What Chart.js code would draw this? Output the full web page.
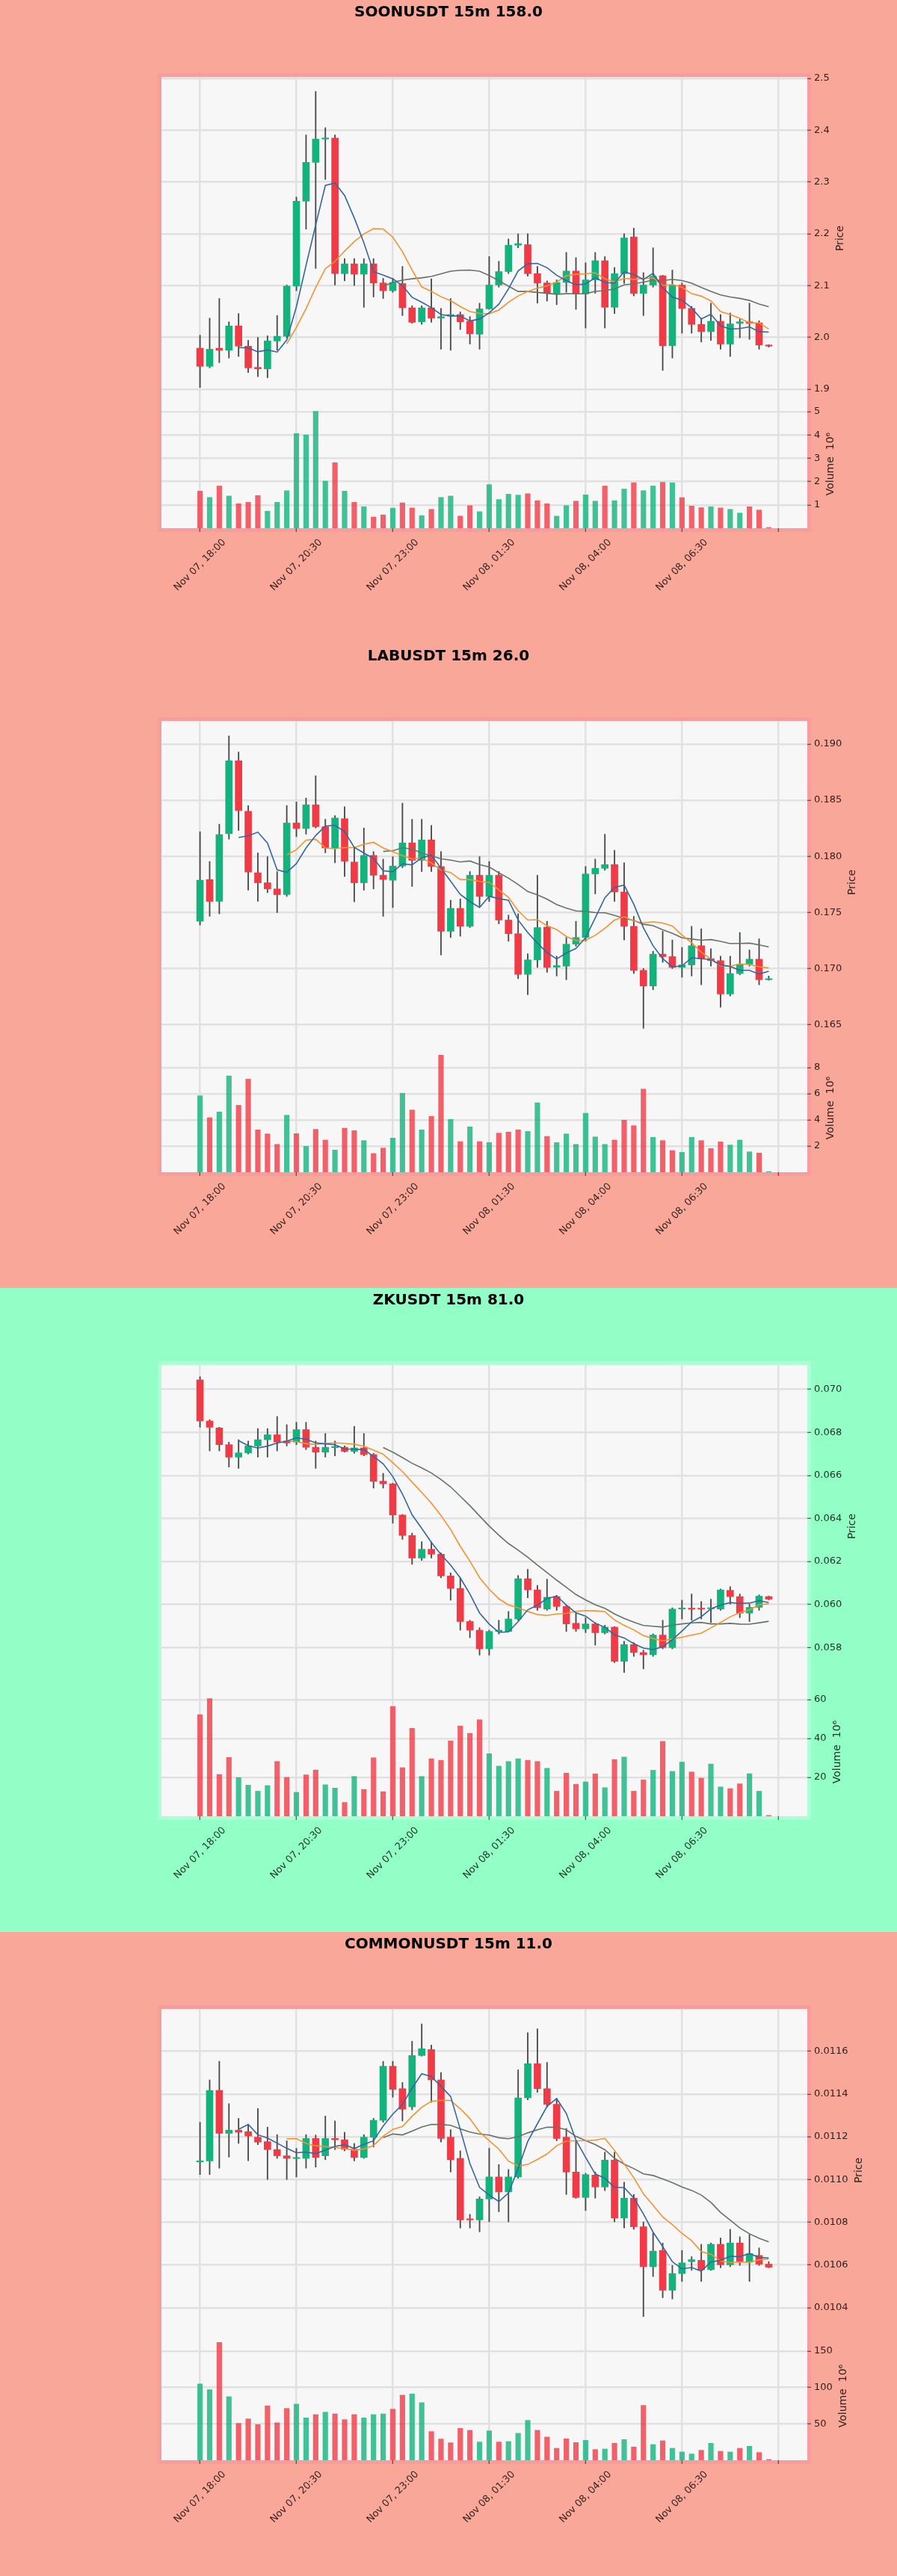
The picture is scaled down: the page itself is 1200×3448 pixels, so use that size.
<!DOCTYPE html>
<html>
<head>
<meta charset="utf-8">
<script src="https://cdn.jsdelivr.net/npm/chart.js@4.4.0/dist/chart.umd.min.js"></script>
<style>
body { margin: 0; width: 1200px; }
.panel { position: relative; width: 1200px; height: 862px; }
canvas { display: block; }
</style>
</head>
<body>
<div class="panel" style="background:#f9a799"><canvas id="c0" width="1200" height="862"></canvas></div>
<div class="panel" style="background:#f9a799"><canvas id="c1" width="1200" height="862"></canvas></div>
<div class="panel" style="background:#91ffc6"><canvas id="c2" width="1200" height="862"></canvas></div>
<div class="panel" style="background:#f9a799"><canvas id="c3" width="1200" height="862"></canvas></div>
<script>
// x axis: candle index, tick every 10 candles (2.5h of 15m bars)
const tickIdx = [0, 10, 20, 30, 40, 50, 60];
const tickLabels = ["Nov 07, 18:00", "Nov 07, 20:30", "Nov 07, 23:00", "Nov 08, 01:30", "Nov 08, 04:00", "Nov 08, 06:30", ""];

// SOONUSDT
const soonOpen = [1.979,1.944,1.979,1.975,2.022,1.983,1.942,1.939,1.993,2.002, 2.099,2.263,2.338,2.383,2.385,2.123,2.142,2.122,2.142,2.105, 2.090,2.104,2.057,2.030,2.057,2.037,2.041,2.044,2.031,2.006, 2.055,2.101,2.127,2.178,2.179,2.123,2.105,2.085,2.106,2.128, 2.084,2.111,2.148,2.058,2.123,2.194,2.085,2.101,2.119,1.984, 2.101,2.056,2.025,2.011,2.031,1.987,2.027,2.030,2.028,1.985];
const soonHigh = [2.004,2.037,2.075,2.030,2.046,1.994,2.000,2.003,2.042,2.101, 2.271,2.391,2.475,2.405,2.391,2.152,2.152,2.152,2.152,2.114, 2.114,2.137,2.061,2.061,2.113,2.056,2.075,2.049,2.040,2.066, 2.156,2.147,2.190,2.200,2.200,2.137,2.109,2.111,2.164,2.154, 2.144,2.164,2.156,2.135,2.200,2.211,2.125,2.173,2.120,2.130, 2.105,2.060,2.037,2.066,2.044,2.047,2.035,2.066,2.032,1.986];
const soonLow = [1.903,1.941,1.951,1.960,1.963,1.932,1.924,1.922,1.975,1.999, 2.090,2.209,2.133,2.305,2.101,2.109,2.100,2.058,2.078,2.075, 2.087,2.042,2.027,2.025,2.029,1.977,1.975,2.015,1.987,1.977, 2.054,2.097,2.123,2.173,2.118,2.066,2.070,2.063,2.087,2.054, 2.018,2.085,2.018,2.046,2.104,2.080,2.042,2.097,1.936,1.960, 2.008,2.008,1.991,1.994,1.977,1.963,1.999,1.996,1.977,1.981];
const soonClose = [1.944,1.977,1.975,2.022,1.983,1.941,1.939,1.993,2.002,2.099, 2.263,2.338,2.383,2.384,2.123,2.142,2.122,2.142,2.105,2.090, 2.106,2.057,2.029,2.057,2.037,2.040,2.044,2.030,2.007,2.055, 2.101,2.127,2.178,2.181,2.123,2.105,2.085,2.106,2.128,2.084, 2.111,2.148,2.058,2.123,2.192,2.085,2.101,2.118,1.984,2.101, 2.056,2.025,2.011,2.031,1.987,2.026,2.030,2.027,1.985,1.983];
const soonVol = [1.59,1.32,1.81,1.38,1.05,1.11,1.40,0.73,1.11,1.61, 4.06,4.00,5.01,2.02,2.81,1.59,1.11,0.92,0.48,0.57, 0.86,1.09,0.87,0.54,0.81,1.32,1.38,0.52,0.97,0.71, 1.87,1.23,1.46,1.42,1.48,1.18,1.05,0.52,0.97,1.16, 1.43,1.16,1.81,1.18,1.68,1.95,1.61,1.81,1.97,1.95, 1.31,0.95,0.88,0.92,0.87,0.81,0.65,0.92,0.78,0.03];
const soonPriceTicks = ["1.9", "2.0", "2.1", "2.2", "2.3", "2.4", "2.5"];
const soonVolTicks = ["1", "2", "3", "4", "5"];

// LABUSDT
const labOpen = [0.17421,0.17793,0.17598,0.18201,0.18851,0.18401,0.17853,0.17764,0.17709,0.17658, 0.18297,0.18248,0.18459,0.18264,0.18075,0.18335,0.17949,0.17764,0.18008,0.17831, 0.17787,0.17913,0.18119,0.17964,0.18146,0.17909,0.17332,0.17536,0.17376,0.17831, 0.17642,0.17831,0.17432,0.17310,0.16948,0.17077,0.17369,0.17012,0.17021,0.17217, 0.17276,0.17842,0.17893,0.17926,0.17682,0.17376,0.16984,0.16844,0.17128,0.17106, 0.17010,0.17032,0.17203,0.17088,0.17070,0.16773,0.16955,0.17039,0.17083,0.16900];
const labHigh = [0.18219,0.17953,0.18286,0.19073,0.18929,0.18452,0.18031,0.17997,0.17864,0.18452, 0.18485,0.18519,0.18718,0.18330,0.18363,0.18441,0.18075,0.18252,0.18042,0.17975, 0.17997,0.18474,0.18330,0.18330,0.18275,0.18042,0.17609,0.17620,0.17864,0.17997, 0.17953,0.17864,0.17476,0.17487,0.17132,0.17831,0.17421,0.17110,0.17277,0.17421, 0.17909,0.17975,0.18197,0.18053,0.17942,0.17465,0.17000,0.17154,0.17332,0.17254, 0.17188,0.17376,0.17354,0.17177,0.17110,0.17110,0.17321,0.17165,0.17265,0.16933];
const labLow = [0.17387,0.17465,0.17487,0.18153,0.18230,0.17698,0.17598,0.17676,0.17498,0.17642, 0.18175,0.18197,0.18252,0.18031,0.17942,0.17820,0.17594,0.17698,0.17709,0.17465, 0.17543,0.17898,0.17731,0.17864,0.17864,0.17121,0.17276,0.17288,0.17365,0.17554, 0.17598,0.17398,0.17243,0.16910,0.16766,0.17010,0.16966,0.16933,0.16900,0.17199, 0.17243,0.17665,0.17875,0.17598,0.17254,0.16955,0.16467,0.16811,0.17055,0.16999, 0.16922,0.16933,0.16855,0.17021,0.16655,0.16755,0.16944,0.17021,0.16855,0.16895];
const labClose = [0.17787,0.17598,0.18193,0.18851,0.18408,0.17860,0.17764,0.17709,0.17658,0.18297, 0.18248,0.18459,0.18264,0.18075,0.18341,0.17957,0.17764,0.18008,0.17831,0.17793, 0.17913,0.18119,0.17964,0.18146,0.17909,0.17332,0.17536,0.17376,0.17831,0.17642, 0.17831,0.17432,0.17310,0.16948,0.17077,0.17365,0.17010,0.17026,0.17217,0.17276, 0.17842,0.17893,0.17926,0.17682,0.17376,0.16984,0.16844,0.17128,0.17106,0.17010, 0.17032,0.17203,0.17088,0.17070,0.16773,0.16955,0.17039,0.17083,0.16900,0.16905];
const labVol = [5.85,4.17,4.61,7.37,5.12,7.12,3.24,2.93,2.13,4.36, 2.95,1.98,3.28,2.46,1.70,3.37,3.18,2.42,1.43,1.85, 2.61,6.04,4.76,3.24,4.27,8.95,4.04,2.34,3.47,2.34, 2.27,2.99,3.07,3.24,3.12,5.31,2.74,2.27,2.93,2.13, 4.51,2.70,2.13,2.46,3.98,3.56,6.36,2.67,2.42,1.66, 1.52,2.67,2.42,1.81,2.32,2.08,2.46,1.56,1.47,0.05];
const labPriceTicks = ["0.165", "0.170", "0.175", "0.180", "0.185", "0.190"];
const labVolTicks = ["2", "4", "6", "8"];

// ZKUSDT
const zkOpen = [0.07044,0.06853,0.06821,0.06743,0.06685,0.06705,0.06737,0.06766,0.06789,0.06760, 0.06755,0.06813,0.06731,0.06708,0.06729,0.06731,0.06712,0.06728,0.06697,0.06573, 0.06561,0.06416,0.06321,0.06216,0.06257,0.06234,0.06133,0.06075,0.05921,0.05881, 0.05794,0.05875,0.05875,0.05933,0.06120,0.06068,0.05979,0.06037,0.05991,0.05913, 0.05887,0.05910,0.05869,0.05895,0.05736,0.05814,0.05777,0.05767,0.05858,0.05800, 0.05979,0.05982,0.05981,0.05980,0.05979,0.06066,0.06037,0.05960,0.05987,0.06037];
const zkHigh = [0.07059,0.06859,0.06824,0.06755,0.06766,0.06760,0.06818,0.06818,0.06874,0.06836, 0.06847,0.06847,0.06760,0.06795,0.06760,0.06737,0.06828,0.06795,0.06703,0.06610, 0.06564,0.06419,0.06332,0.06292,0.06292,0.06240,0.06147,0.06124,0.05927,0.05892, 0.05881,0.05927,0.05968,0.06135,0.06164,0.06089,0.06118,0.06043,0.05997,0.05962, 0.05939,0.05916,0.05904,0.05898,0.05829,0.05823,0.05788,0.05864,0.05927,0.05985, 0.06020,0.06049,0.06014,0.06025,0.06072,0.06083,0.06049,0.06002,0.06045,0.06040];
const zkLow = [0.06824,0.06714,0.06714,0.06639,0.06633,0.06700,0.06685,0.06685,0.06714,0.06737, 0.06743,0.06720,0.06633,0.06685,0.06691,0.06708,0.06703,0.06691,0.06541,0.06541, 0.06378,0.06303,0.06187,0.06205,0.06216,0.06124,0.06020,0.05881,0.05846,0.05765, 0.05765,0.05863,0.05875,0.05927,0.06031,0.05973,0.05973,0.05973,0.05875,0.05875, 0.05869,0.05811,0.05863,0.05730,0.05684,0.05759,0.05701,0.05759,0.05794,0.05794, 0.05933,0.05927,0.05933,0.05916,0.05973,0.06002,0.05939,0.05921,0.05973,0.06022];
const zkClose = [0.06853,0.06824,0.06743,0.06685,0.06705,0.06737,0.06766,0.06789,0.06755,0.06751, 0.06813,0.06731,0.06708,0.06731,0.06732,0.06712,0.06728,0.06697,0.06573,0.06561, 0.06416,0.06321,0.06216,0.06257,0.06234,0.06133,0.06075,0.05921,0.05881,0.05794, 0.05875,0.05881,0.05933,0.06120,0.06068,0.05985,0.06034,0.05991,0.05910,0.05887, 0.05910,0.05869,0.05895,0.05736,0.05814,0.05777,0.05767,0.05858,0.05800,0.05979, 0.05982,0.05978,0.05978,0.05983,0.06068,0.06037,0.05960,0.05987,0.06039,0.06025];
const zkVol = [52.3,60.6,21.5,30.3,19.9,16.0,12.9,15.8,28.2,20.0, 12.3,21.3,23.8,16.2,14.5,7.1,20.5,13.8,30.1,12.6, 56.5,25.0,45.3,20.5,29.6,28.8,38.8,46.5,42.7,49.7, 32.2,25.8,28.2,29.6,28.8,28.2,24.7,12.9,22.2,16.4, 17.7,21.8,14.7,29.2,30.5,12.9,18.7,23.7,38.6,23.1, 27.9,22.8,19.6,26.9,15.1,14.2,16.7,21.9,12.9,0.4];
const zkPriceTicks = ["0.058", "0.060", "0.062", "0.064", "0.066", "0.068", "0.070"];
const zkVolTicks = ["20", "40", "60"];

// COMMONUSDT
const commonOpen = [0.011082,0.011087,0.011417,0.011216,0.011231,0.011224,0.011198,0.011177,0.011140,0.011111, 0.011098,0.011099,0.011192,0.011111,0.011192,0.011186,0.011142,0.011103,0.011198,0.011277, 0.011530,0.011425,0.011340,0.011580,0.011608,0.011466,0.011198,0.011099,0.010816,0.010811, 0.010909,0.011012,0.010942,0.011012,0.011382,0.011542,0.011425,0.011352,0.011198,0.011035, 0.010916,0.011021,0.010965,0.011091,0.010820,0.010913,0.010779,0.010592,0.010668,0.010482, 0.010560,0.010616,0.010622,0.010578,0.010697,0.010601,0.010703,0.010613,0.010645,0.010604];
const commonHigh = [0.011268,0.011466,0.011553,0.011355,0.011286,0.011257,0.011332,0.011245,0.011210,0.011181, 0.011146,0.011210,0.011208,0.011297,0.011274,0.011221,0.011169,0.011210,0.011286,0.011553, 0.011553,0.011454,0.011647,0.011728,0.011629,0.011501,0.011233,0.011134,0.010837,0.010919, 0.011146,0.011070,0.011047,0.011513,0.011687,0.011705,0.011548,0.011379,0.011239,0.011181, 0.011029,0.011035,0.011128,0.011128,0.010988,0.010930,0.010802,0.010750,0.010703,0.010598, 0.010668,0.010639,0.010697,0.010703,0.010726,0.010767,0.010732,0.010744,0.010680,0.010616];
const commonLow = [0.011023,0.011023,0.011053,0.011105,0.011169,0.011088,0.011163,0.011000,0.011099,0.011000, 0.011012,0.011053,0.011058,0.011093,0.011140,0.011134,0.011087,0.011099,0.011152,0.011268, 0.011385,0.011274,0.011326,0.011577,0.011361,0.011175,0.011035,0.010773,0.010773,0.010755, 0.010802,0.010849,0.010802,0.011006,0.011373,0.011408,0.011338,0.011181,0.010930,0.010912, 0.010855,0.010913,0.010948,0.010802,0.010773,0.010767,0.010359,0.010546,0.010447,0.010441, 0.010523,0.010575,0.010523,0.010575,0.010587,0.010592,0.010598,0.010523,0.010598,0.010587];
const commonClose = [0.011087,0.011417,0.011216,0.011231,0.011221,0.011204,0.011175,0.011140,0.011111,0.011099, 0.011102,0.011192,0.011103,0.011192,0.011186,0.011142,0.011103,0.011198,0.011277,0.011530, 0.011422,0.011329,0.011580,0.011612,0.011466,0.011192,0.011093,0.010811,0.010811,0.010909, 0.011012,0.010942,0.011012,0.011382,0.011542,0.011425,0.011352,0.011192,0.011035,0.010916, 0.011023,0.010965,0.011091,0.010820,0.010913,0.010779,0.010592,0.010665,0.010482,0.010560, 0.010610,0.010625,0.010578,0.010697,0.010601,0.010703,0.010616,0.010653,0.010604,0.010590];
const commonVol = [104.8,96.9,162.0,87.3,50.7,56.8,49.0,74.7,51.4,71.2, 77.1,58.2,62.7,66.1,63.7,55.8,62.7,58.2,62.7,63.7, 70.2,89.4,91.1,79.1,39.4,29.1,24.0,43.8,41.1,25.0, 40.4,25.0,25.7,37.0,54.8,41.1,31.8,16.4,29.5,24.3, 27.4,14.7,15.4,23.3,28.4,18.2,75.3,21.6,26.7,16.4, 11.3,8.6,13.7,23.3,12.3,11.3,16.4,19.2,10.6,1.0];
const commonPriceTicks = ["0.0104", "0.0106", "0.0108", "0.0110", "0.0112", "0.0114", "0.0116"];
const commonVolTicks = ["50", "100", "150"];

const titles = ["SOONUSDT 15m 158.0", "LABUSDT 15m 26.0", "ZKUSDT 15m 81.0", "COMMONUSDT 15m 11.0"];
const priceMin = [1.8795, 0.16330, 0.056135, 0.010288];
const priceMax = [2.5030, 0.19206, 0.071135, 0.011798];
const volMax = [5.51, 9.83, 66.2, 176.6];
const maWindows = [5, 10, 20];

const UP = "#14b37d", DOWN = "#f03a46";
const UP_VOL = "rgba(20,179,125,0.8)", DOWN_VOL = "rgba(240,58,70,0.8)";
const MA_COLORS = ["#3466a0", "#f5922f", "#667466"];
const TEXT = "rgba(0,0,0,0.82)";
const FONT = "'DejaVu Sans', sans-serif";

Chart.defaults.font.family = FONT;

// moving averages of the close, as the original chart shows them
function movingAvg(vals, n) {
    return vals.map((v, i) => {
        if (i < n - 1) return null;
        let s = 0;
        for (let k = i - n + 1; k <= i; k++) s += vals[k];
        return s / n;
    });
}

function decor(p) {
    return {
        id: "decor",
        beforeDraw(chart) {
            const ctx = chart.ctx, a = chart.chartArea;
            ctx.save();
            ctx.fillStyle = p.frame;
            ctx.fillRect(a.left - 5, a.top - 5, a.right - a.left + 10, a.bottom - a.top + 10);
            ctx.fillStyle = "#f7f7f7";
            ctx.fillRect(a.left, a.top, a.right - a.left, a.bottom - a.top);
            ctx.restore();
        },
        afterDraw(chart) {
            const ctx = chart.ctx, a = chart.chartArea, sc = chart.scales;
            ctx.save();
            // title
            ctx.fillStyle = "#000";
            ctx.font = "bold 20px " + FONT;
            ctx.textAlign = "center";
            ctx.textBaseline = "middle";
            ctx.fillText(p.title, 600, 17);

            // rotated date labels, centred on their tick
            ctx.fillStyle = TEXT;
            ctx.font = "13px " + FONT;
            tickIdx.forEach((v, k) => {
                const t = tickLabels[k];
                if (!t) return;
                const x = sc.x.getPixelForValue(v);
                const h = (ctx.measureText(t).width + 14) * Math.SQRT1_2;
                ctx.save();
                ctx.translate(x, a.bottom + 12 + h / 2);
                ctx.rotate(-Math.PI / 4);
                ctx.fillText(t, 0, 0);
                ctx.restore();
            });

            // axis titles on the right, reading upwards
            ctx.font = "13px " + FONT;
            const pw = Math.max(...p.priceTicks.map(t => ctx.measureText(t).width));
            const vw = Math.max(...p.volTicks.map(t => ctx.measureText(t).width));
            ctx.font = "14px " + FONT;
            const label = (txt, x, y) => {
                ctx.save();
                ctx.translate(x, y);
                ctx.rotate(-Math.PI / 2);
                ctx.fillText(txt, 0, 0);
                ctx.restore();
            };
            label("Price", a.right + 9 + pw + 14.5, (sc.y.top + sc.y.bottom) / 2);
            label("Volume  10\u2076", a.right + 9 + vw + 14.5, (sc.v.top + sc.v.bottom) / 2);
            ctx.restore();
        }
    };
}

function drawPanel(id, p) {
    const idx = p.close.map((c, i) => i);
    const up = idx.map(i => p.close[i] >= p.open[i]);
    const gridOpts = { color: "#e1e1e1", lineWidth: 2.5, offset: false, drawTicks: true, tickLength: 5, tickColor: "#333", tickWidth: 1 };
    const tickFont = { size: 13 };

    const maSets = maWindows.map((n, k) => {
        const ma = movingAvg(p.close, n);
        return {
            type: "line",
            data: idx.map(i => ({ x: i, y: ma[i] })),
            borderColor: MA_COLORS[k],
            borderWidth: 1.6,
            pointRadius: 0,
            yAxisID: "y",
            order: 1 + k
        };
    });

    new Chart(document.getElementById(id), {
        type: "bar",
        data: {
            datasets: maSets.concat([
                {
                    data: idx.map(i => ({ x: i, y: [p.open[i], p.close[i]] })),
                    backgroundColor: idx.map(i => up[i] ? UP : DOWN),
                    barThickness: 9,
                    minBarLength: 1.5,
                    grouped: false,
                    yAxisID: "y",
                    order: 4
                },
                {
                    data: idx.map(i => ({ x: i, y: [p.low[i], p.high[i]] })),
                    backgroundColor: "#4a4a4a",
                    barThickness: 1.2,
                    grouped: false,
                    yAxisID: "y",
                    order: 5
                },
                {
                    data: idx.map(i => ({ x: i, y: p.vol[i] })),
                    backgroundColor: idx.map(i => up[i] ? UP_VOL : DOWN_VOL),
                    barThickness: 6.5,
                    grouped: false,
                    yAxisID: "v",
                    order: 6
                }
            ])
        },
        options: {
            responsive: false,
            animation: false,
            devicePixelRatio: 1,
            layout: { padding: { top: 103, left: 216, right: 0, bottom: 0 } },
            plugins: { legend: { display: false }, tooltip: { enabled: false } },
            scales: {
                x: {
                    type: "linear",
                    min: -4,
                    max: 63,
                    offset: false,
                    afterBuildTicks: s => { s.ticks = tickIdx.map(v => ({ value: v })); },
                    afterFit: s => { s.height = 155; },
                    ticks: { display: false },
                    grid: gridOpts,
                    border: { display: false }
                },
                y: {
                    type: "linear",
                    axis: "y",
                    position: "right",
                    stack: "main",
                    stackWeight: 432,
                    min: p.pMin,
                    max: p.pMax,
                    afterBuildTicks: s => { s.ticks = p.priceTicks.map(t => ({ value: parseFloat(t) })); },
                    afterFit: s => { s.width = 120; },
                    ticks: { font: tickFont, color: TEXT, padding: 4, autoSkip: false, callback: (v, i) => p.priceTicks[i] },
                    grid: gridOpts,
                    border: { display: false }
                },
                v: {
                    type: "linear",
                    axis: "y",
                    position: "right",
                    stack: "main",
                    stackWeight: 172,
                    min: 0,
                    max: p.vMax,
                    afterBuildTicks: s => { s.ticks = p.volTicks.map(t => ({ value: parseFloat(t) })); },
                    afterFit: s => { s.width = 120; },
                    ticks: { font: tickFont, color: TEXT, padding: 4, autoSkip: false, callback: (v, i) => p.volTicks[i] },
                    grid: gridOpts,
                    border: { display: false }
                }
            }
        },
        plugins: [decor(p)]
    });
}

const PINK_FRAME = "rgba(246,140,165,0.35)";
const GREEN_FRAME = "rgba(255,255,255,0.25)";

drawPanel("c0", { title: titles[0], open: soonOpen, high: soonHigh, low: soonLow, close: soonClose, vol: soonVol,
    priceTicks: soonPriceTicks, volTicks: soonVolTicks, pMin: priceMin[0], pMax: priceMax[0], vMax: volMax[0], frame: PINK_FRAME });
drawPanel("c1", { title: titles[1], open: labOpen, high: labHigh, low: labLow, close: labClose, vol: labVol,
    priceTicks: labPriceTicks, volTicks: labVolTicks, pMin: priceMin[1], pMax: priceMax[1], vMax: volMax[1], frame: PINK_FRAME });
drawPanel("c2", { title: titles[2], open: zkOpen, high: zkHigh, low: zkLow, close: zkClose, vol: zkVol,
    priceTicks: zkPriceTicks, volTicks: zkVolTicks, pMin: priceMin[2], pMax: priceMax[2], vMax: volMax[2], frame: GREEN_FRAME });
drawPanel("c3", { title: titles[3], open: commonOpen, high: commonHigh, low: commonLow, close: commonClose, vol: commonVol,
    priceTicks: commonPriceTicks, volTicks: commonVolTicks, pMin: priceMin[3], pMax: priceMax[3], vMax: volMax[3], frame: PINK_FRAME });
</script>
</body>
</html>
